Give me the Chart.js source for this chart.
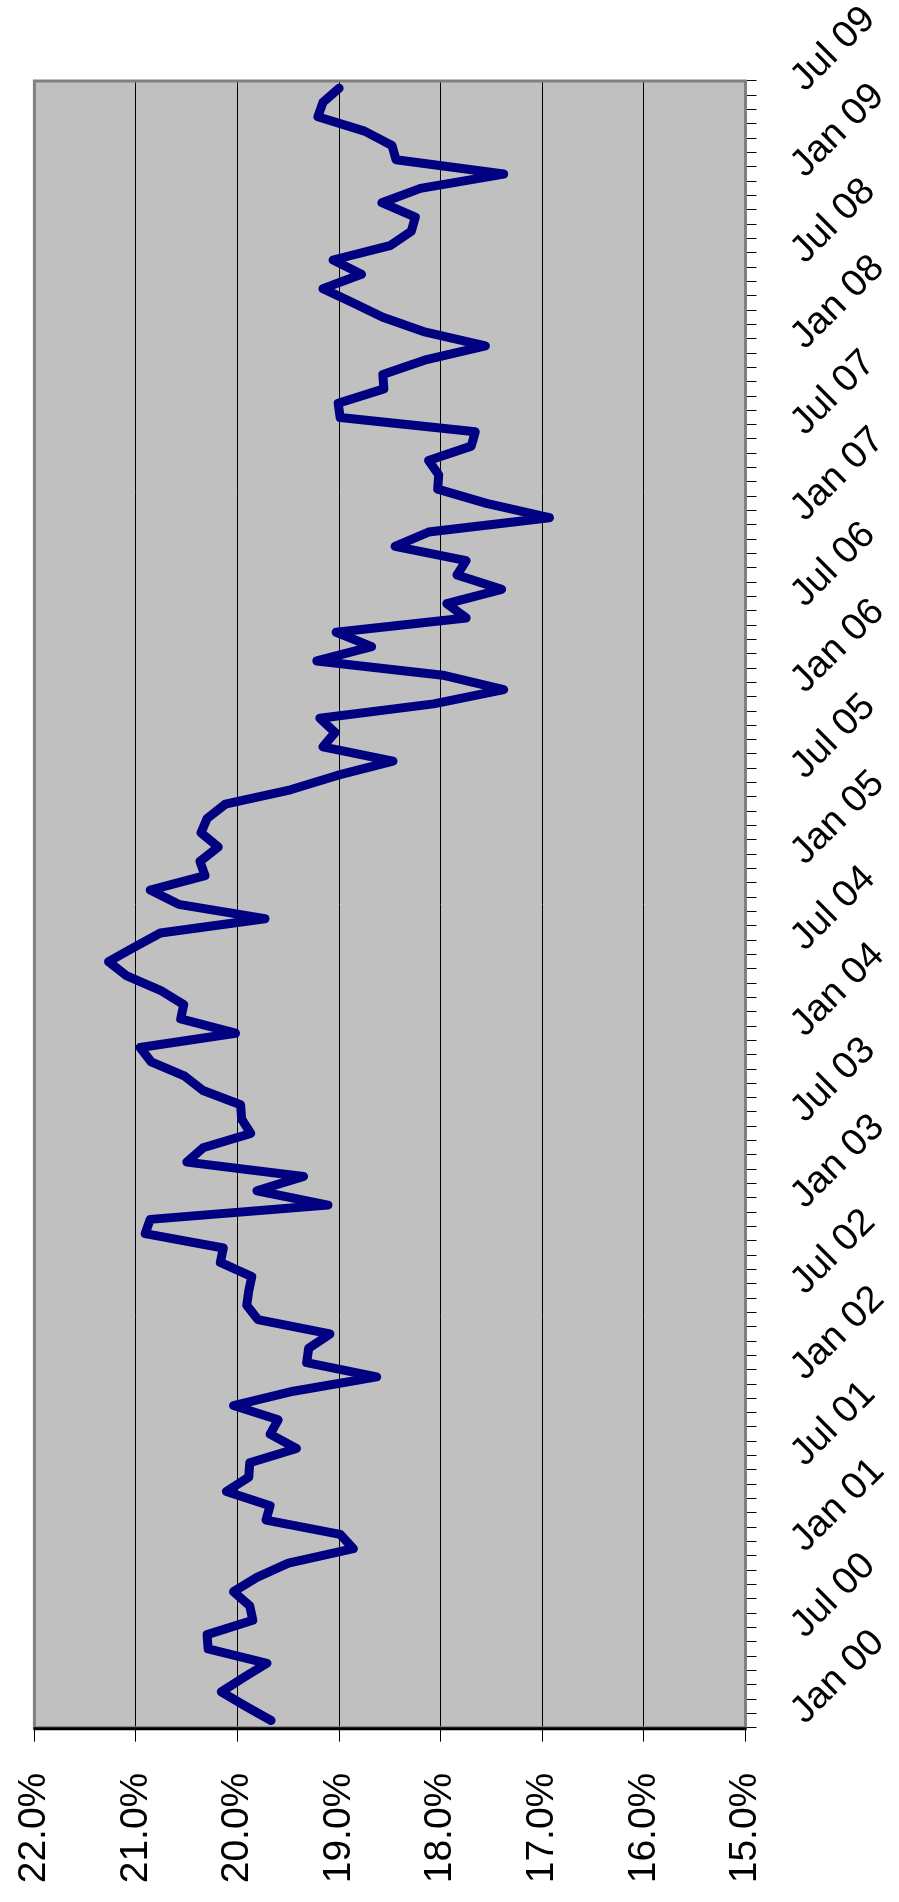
<!DOCTYPE html>
<html>
<head>
<meta charset="utf-8">
<script src="https://cdn.jsdelivr.net/npm/chart.js@4.4.0/dist/chart.umd.min.js"></script>
<style>
  html, body { margin: 0; padding: 0; background: #fff; }
  canvas { display: block; }
</style>
</head>
<body>
<canvas id="chart" width="899" height="1902"></canvas>
<script>
// monthly categories Jan 00 .. Jul 09
const monthNames = ["Jan", "Feb", "Mar", "Apr", "May", "Jun", "Jul", "Aug", "Sep", "Oct", "Nov", "Dec"];
const years = ["00", "01", "02", "03", "04", "05", "06", "07", "08", "09"];
const lastMonthOfLastYear = 7;

// rate in %, one value per month
const rates2000 = [19.67, 19.92, 20.16, 19.94, 19.71, 20.29, 20.30, 19.85, 19.88, 20.04, 19.81, 19.50];
const rates2001 = [18.86, 18.99, 19.72, 19.68, 20.11, 19.89, 19.88, 19.42, 19.68, 19.60, 20.04, 19.45];
const rates2002 = [18.63, 19.32, 19.30, 19.09, 19.80, 19.91, 19.89, 19.86, 20.17, 20.14, 20.91, 20.86];
const rates2003 = [19.11, 19.81, 19.35, 20.50, 20.34, 19.87, 19.96, 19.97, 20.34, 20.52, 20.85, 20.96];
const rates2004 = [20.02, 20.56, 20.53, 20.76, 21.09, 21.27, 21.02, 20.76, 19.73, 20.58, 20.86, 20.32];
const rates2005 = [20.37, 20.19, 20.36, 20.30, 20.12, 19.48, 19.02, 18.47, 19.16, 19.04, 19.19, 18.07];
const rates2006 = [17.38, 17.98, 19.22, 18.68, 19.03, 17.75, 17.94, 17.40, 17.84, 17.75, 18.45, 18.12];
const rates2007 = [16.93, 17.55, 18.03, 18.02, 18.12, 17.70, 17.66, 18.99, 19.01, 18.56, 18.57, 18.16];
const rates2008 = [17.56, 18.17, 18.57, 18.86, 19.16, 18.78, 19.06, 18.50, 18.29, 18.25, 18.58, 18.20];
const rates2009 = [17.38, 18.44, 18.48, 18.75, 19.21, 19.16, 19.00];

// value axis
const valueMin = 15;
const valueMax = 22;
const valueStep = 1;
// months that get a label on the date axis
const labelledMonths = ["Jan", "Jul"];

const categories = [];
years.forEach((y, i) => {
    const count = i === years.length - 1 ? lastMonthOfLastYear : 12;
    for (let m = 0; m < count; m++) categories.push(monthNames[m] + " " + y);
});
const rates = [].concat(rates2000, rates2001, rates2002, rates2003, rates2004,
    rates2005, rates2006, rates2007, rates2008, rates2009);

// grey plot area with a dark frame, like the old spreadsheet charts
const plotFrame = {
    id: "plotFrame",
    beforeDraw(chart) {
        const { ctx, chartArea: a } = chart;
        ctx.save();
        ctx.fillStyle = "#ffffff";
        ctx.fillRect(0, 0, chart.width, chart.height);
        ctx.fillStyle = "#C0C0C0";
        ctx.fillRect(a.left, a.top, a.right - a.left, a.bottom - a.top);
        ctx.restore();
    },
    afterDraw(chart) {
        const { ctx, chartArea: a } = chart;
        ctx.save();
        ctx.strokeStyle = "#808080";
        ctx.lineWidth = 3;
        ctx.strokeRect(a.left, a.top, a.right - a.left, a.bottom - a.top);
        ctx.strokeStyle = "#000000";
        ctx.lineWidth = 3;
        ctx.beginPath();
        ctx.moveTo(a.left - 1, a.bottom + 1);
        ctx.lineTo(a.right + 1, a.bottom + 1);
        ctx.stroke();
        ctx.restore();
    }
};

Chart.defaults.color = "#000";
Chart.defaults.font.family = "'Liberation Sans', Arial, sans-serif";

new Chart(document.getElementById("chart"), {
    type: "line",
    data: {
        labels: categories,
        datasets: [{
            data: rates,
            borderColor: "#000080",
            borderWidth: 9,
            borderJoinStyle: "round",
            borderCapStyle: "round",
            pointRadius: 0,
            tension: 0,
            fill: false,
        }]
    },
    options: {
        indexAxis: "y",
        responsive: false,
        animation: false,
        devicePixelRatio: 1,
        layout: { padding: { top: 81, left: 34.4, right: 0, bottom: 0 } },
        plugins: { legend: { display: false }, tooltip: { enabled: false } },
        scales: {
            x: {
                type: "linear",
                position: "bottom",
                reverse: true,
                min: valueMin,
                max: valueMax,
                ticks: {
                    stepSize: valueStep,
                    minRotation: 90,
                    maxRotation: 90,
                    padding: 31,
                    font: { size: 39 },
                    callback: v => v.toFixed(1) + "%",
                },
                grid: { color: "#000", lineWidth: 1, tickLength: 14 },
                border: { display: false },
                afterFit: s => { s.height = 174.3; },
            },
            y: {
                type: "category",
                position: "right",
                reverse: true,
                offset: true,
                ticks: {
                    autoSkip: false,
                    minRotation: 45,
                    maxRotation: 45,
                    padding: 41,
                    labelOffset: -3,
                    font: { size: 38 },
                    callback: function (value) {
                        const label = this.getLabelForValue(value);
                        return labelledMonths.includes(label.slice(0, 3)) ? label : "";
                    },
                },
                grid: { offset: true, drawOnChartArea: false, color: "#000", lineWidth: 1, tickLength: 11 },
                border: { display: false },
                afterFit: s => { s.width = 153.5; },
            }
        }
    },
    plugins: [plotFrame]
});
</script>
</body>
</html>
